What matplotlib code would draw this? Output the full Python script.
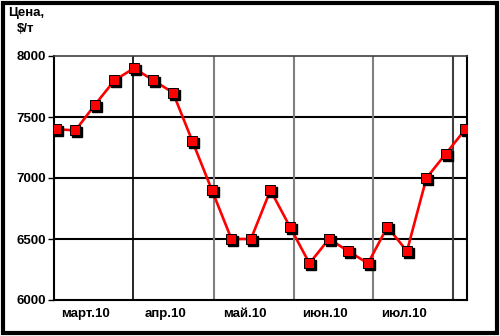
import matplotlib.pyplot as plt
import matplotlib.transforms as mtransforms
from matplotlib.patches import Rectangle

plt.rcParams['font.family'] = ['Liberation Sans', 'DejaVu Sans']

# weekly prices, $/t
prices = [7400, 7390, 7600, 7800, 7900, 7800, 7700, 7300, 6900, 6500, 6500,
          6900, 6600, 6300, 6500, 6400, 6300, 6600, 6400, 7000, 7200, 7400]
month_labels = ["март.10", "апр.10", "май.10", "июн.10", "июл.10"]
month_label_pos = [1.5, 5.6, 9.7, 13.8, 17.85]
month_lines = [3.95, 8.1, 12.2, 16.26, 20.36]
y_ticks = [6000, 6500, 7000, 7500, 8000]

x = list(range(len(prices)))

fig = plt.figure(figsize=(5, 3.36), dpi=100)
ax = fig.add_axes([54 / 500, 36 / 336, 413 / 500, 244 / 336])

ax.set_xlim(-0.1, 21.08)
ax.set_ylim(6000, 8000)

# grid
for yv in y_ticks[1:-1]:
    ax.axhline(yv, color='black', lw=1.5, zorder=1)
for i, xv in enumerate(month_lines):
    col = 'black' if i == 0 else '#808080'
    if i == len(month_lines) - 1:
        col = '#404040'
    ax.axvline(xv, color=col, lw=1.2 if i == 0 else 1.5, zorder=1)

ax.plot(x, prices, color='#ff0000', lw=1.9, zorder=3)
shadow = mtransforms.offset_copy(ax.transData, fig=fig, x=2, y=-2, units='dots')
ax.plot(x, prices, ls='none', marker='s', ms=6.8, color='black', transform=shadow, zorder=4)
ax.plot(x, prices, ls='none', marker='s', ms=6.8, mfc='#ff0000', mec='black', mew=0.7, zorder=5)

ax.set_yticks(y_ticks)
ax.set_yticklabels([str(v) for v in y_ticks], fontsize=9.5, fontweight='bold')
ax.tick_params(axis='y', length=4, width=1, direction='out', pad=2)
ax.set_xticks(month_label_pos)
ax.set_xticklabels(month_labels, fontsize=9.5, fontweight='bold')
ax.tick_params(axis='x', length=0, pad=6)

for side in ['left', 'bottom', 'right']:
    ax.spines[side].set_linewidth(1.5)
    ax.spines[side].set_color('black')
ax.spines['top'].set_linewidth(1.2)
ax.spines['top'].set_color('#404040')

fig.text(26 / 500, 1 - 21 / 336, "Цена,\n$/т", ha='center', va='center',
         fontsize=9.5, fontweight='bold', linespacing=1.4)

# outer frame
fig.patches.append(Rectangle((3 / 500, 3 / 336), 494 / 500, 330 / 336,
                             transform=fig.transFigure, fill=False,
                             edgecolor='black', lw=3))

fig.savefig('out.png', dpi=100)
